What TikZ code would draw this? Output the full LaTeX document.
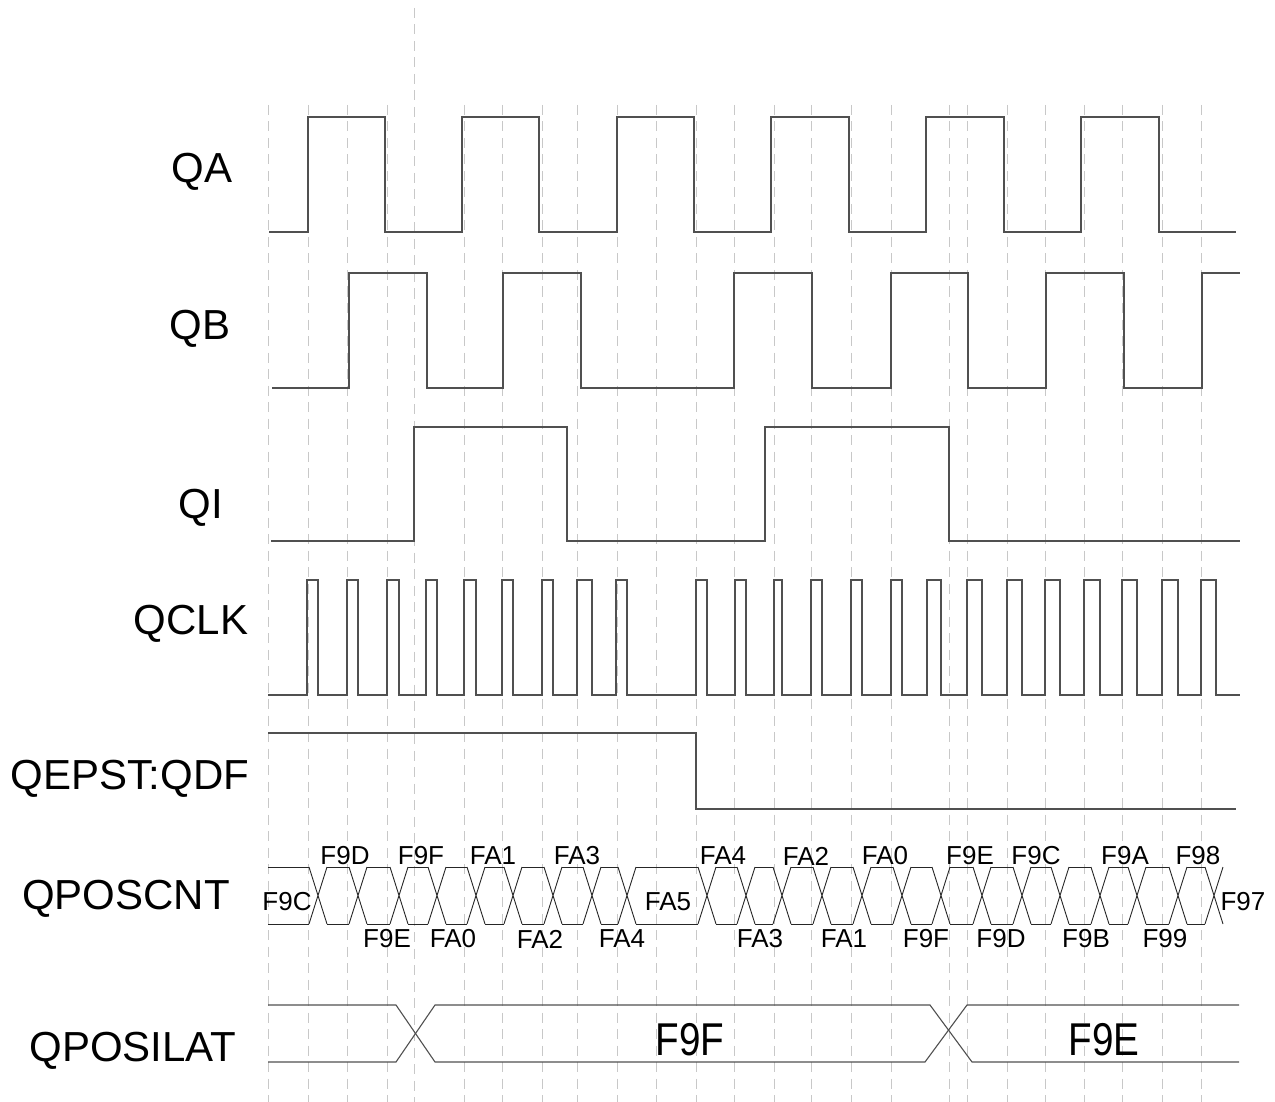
\documentclass[tikz,border=0pt]{standalone}
\usepackage{graphicx}
\usepackage{fontspec}
\setmainfont{Liberation Sans}
\newcommand{\sigfont}{\fontsize{42}{50}\selectfont}
\newcommand{\busfont}{\fontsize{26}{30}\selectfont}
\newcommand{\latfont}{\fontsize{46}{54}\selectfont}
\definecolor{gridgray}{RGB}{200,200,200}
\definecolor{wavegray}{RGB}{80,80,80}
\begin{document}
\begin{tikzpicture}[x=1pt,y=-1pt,
        gridline/.style={gridgray,line width=1pt,dash pattern=on 10pt off 6.5pt},
        wave/.style={wavegray,line width=1.3pt},
        bus/.style={black!85,line width=0.9pt},
        latch/.style={wavegray,line width=1.1pt},
        signame/.style={font=\sigfont,inner sep=0pt},
        busval/.style={font=\busfont,inner sep=0pt}]
    \useasboundingbox (0,0) rectangle (1275,1102);

    % time grid
    \foreach \x in {268,308,347,387,464,502,542,577,617,656,696,734,774,
                    811,851,891,949,967,1007,1045,1084,1122,1162,1201}
        \draw[gridline] (\x,105) -- (\x,1102);
    \draw[gridline] (414,8) -- (414,1102);

    % signal names
    \node[signame] (qa)   at (202,172) {QA};
    \node[signame] (qb)   at (200,329) {QB};
    \node[signame] (qi)   at (201,508) {QI};
    \node[signame] (qclk) at (191,624) {QCLK};
    \node[signame] (qdf)  at (130,779) {QEPST:QDF};
    \node[signame] (qcnt) at (126,899) {QPOSCNT};
    \node[signame] (qlat) at (133,1051) {QPOSILAT};

    % QA, QB, QI
    \draw[wave] (269,232) -| (308,117) -| (385,232) -| (462,117) -| (539,232)
        -| (617,117) -| (694,232) -| (771,117) -| (849,232) -| (926,117)
        -| (1004,232) -| (1081,117) -| (1159,232) -- (1236,232);
    \draw[wave] (272,388) -| (349,273) -| (427,388) -| (503,273) -| (581,388)
        -| (734,273) -| (812,388) -| (891,273) -| (968,388) -| (1046,273)
        -| (1124,388) -| (1202,273) -- (1240,273);
    \draw[wave] (271,541) -| (414,427) -| (567,541) -| (765,427) -| (949,541)
        -- (1240,541);

    % QCLK
    \draw[wave] (268,695)
        \foreach \r/\f in {307/318,347/358,387/399,426/437,464/476,502/513,
                           542/553,577/592,616/627,696/707,735/746,774/782,
                           811/822,851/862,891/902,927/941,967/982,1007/1022,
                           1045/1060,1084/1100,1122/1137,1162/1178,1201/1216}
            { -| (\r,580) -| (\f,695) }
        -- (1240,695);

    % QEPST:QDF
    \draw[wave] (268,733) -| (696,809) -- (1236,809);

    % QPOSCNT
    \foreach \c [remember=\c as \p (initially 259)] in {318,358,399,437,476,
            513,553,592,627,707,746,782,822,862,902,941,982,1022,1060,1100,
            1137,1178,1214} {
        \draw[bus] ({\p+9},867) -- ({\c-9},867) ({\p+9},924) -- ({\c-9},924);
        \draw[bus] ({\c-9},867) -- ({\c+9},924) ({\c-9},924) -- ({\c+9},867);
    }
    \foreach \v/\x in {F9D/345,F9F/421,FA1/493,FA3/577,FA4/723,FA2/806,
                       FA0/885,F9E/970,F9C/1036,F9A/1125,F98/1198}
        \node[busval] (up\x) at (\x,856) {\v};
    \foreach \v/\x in {F9E/387,FA0/453,FA2/540,FA4/622,FA3/760,FA1/844,
                       F9F/926,F9D/1001,F9B/1086,F99/1165}
        \node[busval] (dn\x) at (\x,939) {\v};
    \node[busval] (first) at (287,902) {F9C};
    \node[busval] (turn)  at (668,902) {FA5};
    \node[busval] (last)  at (1243,902) {F97};

    % QPOSILAT
    \draw[latch] (268,1005) -- (396,1005) -- (435,1062) -- (925,1062)
        -- (967,1005) -- (1239,1005);
    \draw[latch] (268,1062) -- (396,1062) -- (435,1005) -- (930,1005)
        -- (972,1062) -- (1239,1062);
    \node[font=\latfont,inner sep=0pt] (lat1) at (690,1040) {\scalebox{0.84}[1]{F9F}};
    \node[font=\latfont,inner sep=0pt] (lat2) at (1104,1040) {\scalebox{0.84}[1]{F9E}};
\end{tikzpicture}
\end{document}
